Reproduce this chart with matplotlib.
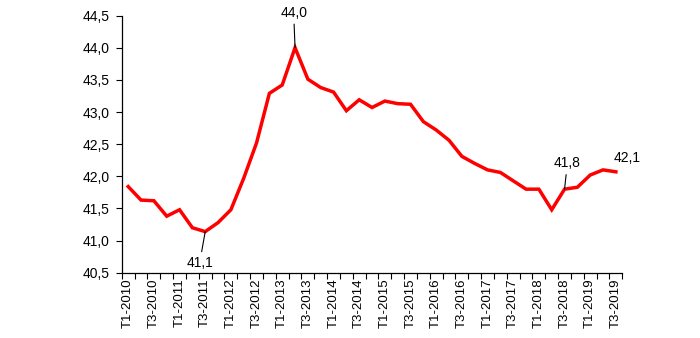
import numpy as np
import matplotlib.pyplot as plt

plt.rcParams['font.family'] = ['Liberation Sans', 'DejaVu Sans']

quarters = [f"T{q}-{y}" for y in range(2010, 2020) for q in range(1, 5)][:39]
values = [41.84, 41.63, 41.62, 41.38, 41.48, 41.20, 41.14, 41.28, 41.48, 41.97,
          42.52, 43.29, 43.42, 44.00, 43.51, 43.38, 43.31, 43.02, 43.19, 43.07,
          43.17, 43.13, 43.12, 42.85, 42.72, 42.56, 42.31, 42.20, 42.10, 42.06,
          41.93, 41.80, 41.80, 41.48, 41.80, 41.83, 42.02, 42.10, 42.07]
yticks = [40.5, 41.0, 41.5, 42.0, 42.5, 43.0, 43.5, 44.0, 44.5]
# (index, label, text offset in points, draw leader)
notes = [(6, "41,1", (-4, -22.5), True),
         (13, "44,0", (-1, 25), True),
         (34, "41,8", (2, 18.5), True),
         (38, "42,1", (8, 10), False)]

fig = plt.figure(figsize=(7, 3.38), dpi=100)
ax = fig.add_axes([0.174, 0.193, 0.715, 0.761])
x = np.arange(len(values))
ax.plot(x, values, color='#ff0000', lw=2.5, solid_joinstyle='miter')

ax.set_xlim(-0.5, len(values) - 0.5)
ax.set_ylim(40.5, 44.5)
ax.set_yticks(yticks)
ax.set_yticklabels([f"{v:.1f}".replace('.', ',') for v in yticks], fontsize=10)
ax.set_xticks(x[::2])
ax.set_xticklabels(quarters[::2], rotation=90, fontsize=9.5)
ax.set_xticks(np.arange(-0.5, len(values)), minor=True)
ax.tick_params(axis='x', which='major', length=0, pad=4)
ax.tick_params(axis='x', which='minor', length=4, width=0.8)
ax.tick_params(axis='y', length=4, width=0.8, pad=5)
for s in ['top', 'right']:
    ax.spines[s].set_visible(False)
for s in ['left', 'bottom']:
    ax.spines[s].set_linewidth(0.9)

for i, lab, off, lead in notes:
    ax.annotate(lab, (x[i], values[i]), xytext=off, textcoords='offset points',
                ha='center', va='center', fontsize=10,
                arrowprops=dict(arrowstyle='-', color='black', lw=0.8,
                                shrinkA=1, shrinkB=0) if lead else None)

fig.savefig('out.png', dpi=100)
